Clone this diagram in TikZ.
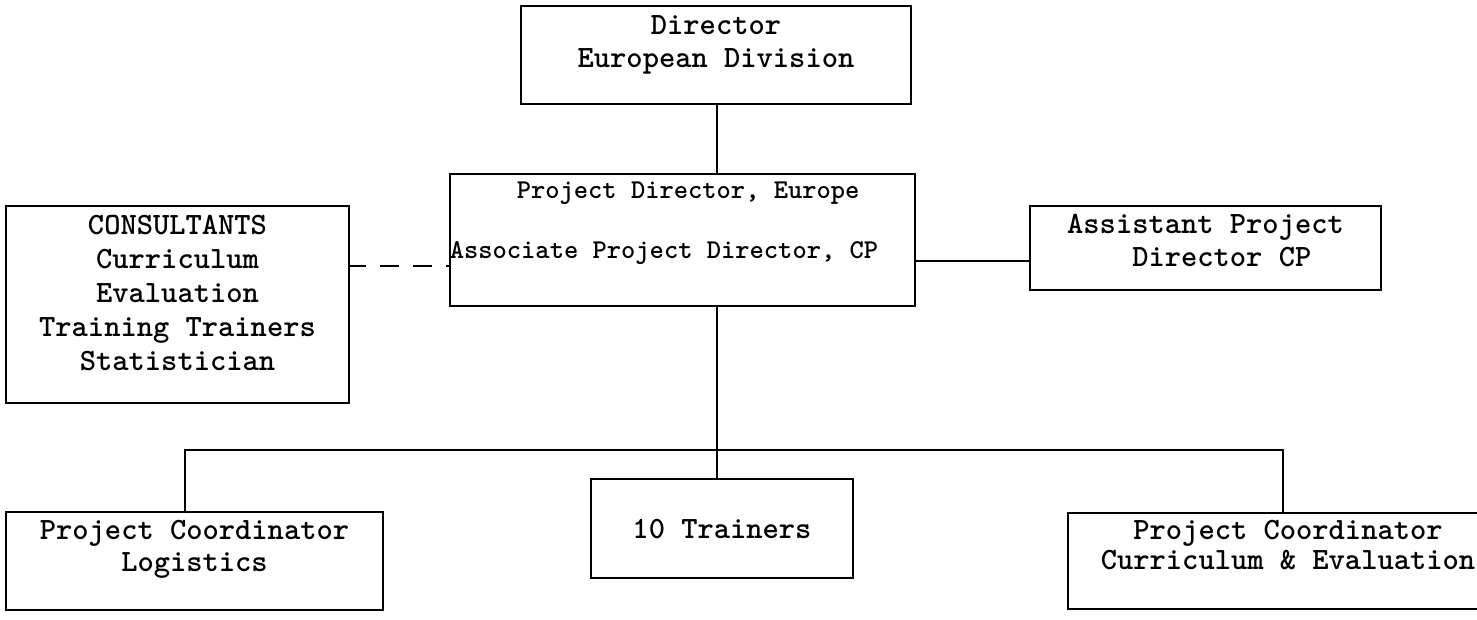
\documentclass[tikz,border=0pt]{standalone}
\usepackage{fontspec}
\begin{document}
\begin{tikzpicture}[x=0.5pt, y=-0.5pt]
\tikzset{ orgbox/.style={draw, line width=1.1pt, inner sep=0pt, anchor=north, align=center},
  tw/.style={font=\ttfamily\bfseries\fontsize{15.5}{#1}\selectfont},
  link/.style={line width=1.1pt},
  dashlink/.style={line width=1.1pt, dash pattern=on 9.5pt off 7pt, dash phase=1pt} }

\clip (0,0) rectangle (1477,620);

%%% Blocos

% Director
\node [orgbox, tw=16.5, minimum width=195pt, text height=30.5pt, text depth=18.5pt] (DIR) at (716,5)
  {Director\\European Division};

% Project Director
\node [orgbox, align=left, font=\ttfamily\bfseries\fontsize{13.6}{30}\selectfont,
  minimum width=229.5pt, text height=42pt, text depth=24pt] (PD) at (682.5,173)
  {\hspace*{33.5pt}Project Director, Europe\\Associate Project Director, CP\hspace*{18.5pt}};

% Consultants
\node [orgbox, tw=17.1, minimum width=171.5pt, text height=82.4pt, text depth=16.1pt] (CONS) at (177.5,205)
  {CONSULTANTS\\Curriculum\\Evaluation\\Training Trainers\\Statistician};

% Assistant
\node [orgbox, align=left, tw=16.5, minimum width=175.5pt, text height=30pt, text depth=12pt] (ASST) at (1205.5,205)
  {Assistant Project\\\hspace*{2.1em}Director CP};

% Logistics
\node [orgbox, tw=16, minimum width=188.5pt, text height=29.5pt, text depth=19.5pt] (LOG) at (194.5,511)
  {Project Coordinator\\Logistics};

% Trainers
\node [orgbox, tw=16, minimum width=131pt, text height=29.5pt, text depth=20pt] (TRN) at (722,478)
  {10 Trainers};

% Curriculum
\node [orgbox, tw=15, minimum width=220pt, text height=28pt, text depth=20pt] (CUR) at (1288,512)
  {Project Coordinator\\Curriculum \& Evaluation};

%%% Linhas

\coordinate (spine) at (717,450);
\coordinate (busL) at (185,450);
\coordinate (busR) at (1283,450);
\coordinate (CONSport) at (349,266);
\coordinate (ASSTport) at (1030,261);

% Director -> Project Director
\draw [link] (spine |- DIR.south) -- (spine |- PD.north);

% Consultants - - Project Director
\draw [dashlink] (CONSport) -- (CONSport -| PD.west);

% Project Director -> Assistant
\draw [link] (ASSTport -| PD.east) -- (ASSTport);

% Project Director -> Trainers
\draw [link] (spine |- PD.south) -- (spine |- TRN.north);

% bus
\draw [link] (busL |- LOG.north) -- (busL) -- (busR) -- (busR |- CUR.north);

\end{tikzpicture}
\end{document}
